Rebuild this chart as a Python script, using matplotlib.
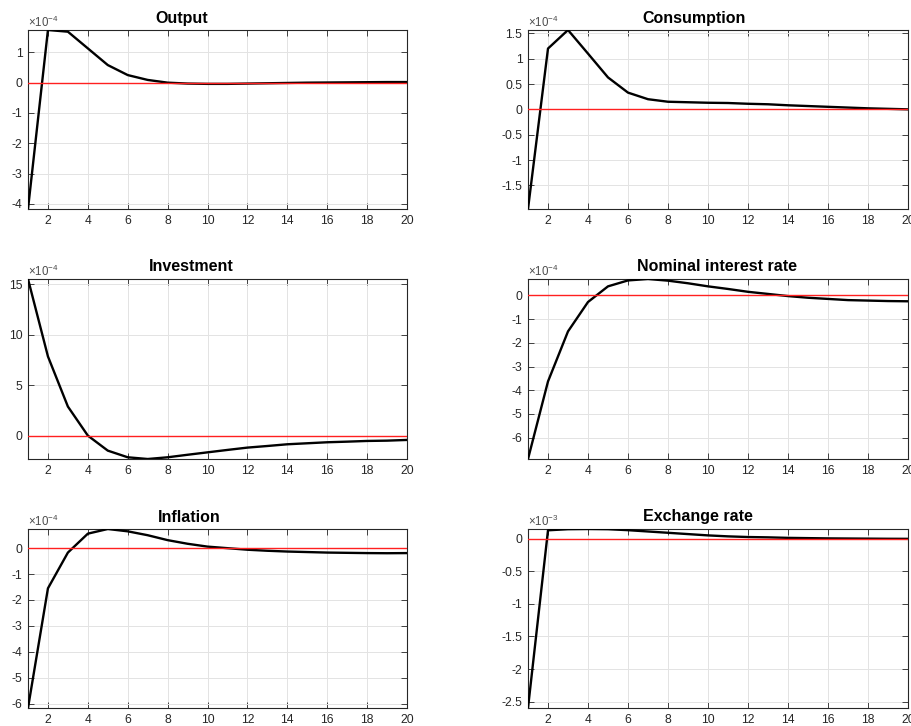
import numpy as np
import matplotlib
matplotlib.use('Agg')
import matplotlib.pyplot as plt
from matplotlib.ticker import FuncFormatter

plt.rcParams['font.family'] = ['Liberation Sans', 'DejaVu Sans']
plt.rcParams['mathtext.fontset'] = 'custom'
plt.rcParams['mathtext.rm'] = 'Liberation Sans'
plt.rcParams['mathtext.it'] = 'Liberation Sans'

periods = np.arange(1, 21)

# impulse responses
output = np.array([-4.165, 1.736, 1.68, 1.13, 0.58, 0.25, 0.09, 0.0, -0.03, -0.04,
                   -0.04, -0.03, -0.02, -0.01, 0.0, 0.005, 0.01, 0.015, 0.02, 0.02]) * 1e-4
consumption = np.array([-1.967, 1.20, 1.566, 1.10, 0.63, 0.33, 0.20, 0.15, 0.14, 0.13,
                        0.125, 0.11, 0.10, 0.08, 0.065, 0.05, 0.035, 0.02, 0.01, 0.0]) * 1e-4
investment = np.array([15.53, 7.85, 2.88, 0.0, -1.49, -2.15, -2.32, -2.15, -1.9, -1.66,
                       -1.42, -1.19, -1.03, -0.86, -0.76, -0.66, -0.6, -0.53, -0.50, -0.43]) * 1e-4
interest = np.array([-6.90, -3.63, -1.52, -0.28, 0.38, 0.63, 0.69, 0.62, 0.51, 0.38,
                     0.27, 0.15, 0.06, -0.03, -0.10, -0.15, -0.20, -0.22, -0.24, -0.25]) * 1e-4
inflation = np.array([-6.17, -1.55, -0.17, 0.56, 0.74, 0.65, 0.50, 0.31, 0.17, 0.06,
                      0.0, -0.06, -0.10, -0.13, -0.15, -0.17, -0.18, -0.19, -0.195, -0.19]) * 1e-4
exchange = np.array([-2.597, 0.128, 0.145, 0.148, 0.145, 0.13, 0.11, 0.09, 0.07, 0.05,
                     0.035, 0.025, 0.02, 0.012, 0.008, 0.004, 0.002, 0.0, -0.002, -0.003]) * 1e-3

titles = ['Output', 'Consumption', 'Investment', 'Nominal interest rate', 'Inflation', 'Exchange rate']
series = [output, consumption, investment, interest, inflation, exchange]
exponents = [-4, -4, -4, -4, -4, -3]
yticks = [[-4, -3, -2, -1, 0, 1],
          [-1.5, -1, -0.5, 0, 0.5, 1, 1.5],
          [0, 5, 10, 15],
          [-6, -5, -4, -3, -2, -1, 0],
          [-6, -5, -4, -3, -2, -1, 0],
          [-2.5, -2, -1.5, -1, -0.5, 0]]
title_x = [0.406, 0.437, 0.430, 0.497, 0.425, 0.447]

W, H = 911, 726
fig = plt.figure(figsize=(W / 100, H / 100), dpi=100)

col_left = [28, 528]
col_w = [379, 380]
row_top = [30, 279, 529]
row_h = [179, 180, 179]

for i in range(6):
    r, c = divmod(i, 2)
    ax = fig.add_axes([col_left[c] / W, 1 - (row_top[r] + row_h[r]) / H,
                       col_w[c] / W, row_h[r] / H])
    y = series[i]
    scale = 10.0 ** exponents[i]
    ax.plot(periods, y, color='k', lw=1.7, zorder=3)
    # zero line drawn after the response, as in the original
    ax.plot(periods, np.zeros_like(y), color='#ff2020', lw=1.0, zorder=4)
    ax.set_xlim(1, 20)
    ax.set_ylim(y.min(), y.max())
    ax.set_xticks(np.arange(2, 21, 2))
    ax.set_yticks(np.array(yticks[i]) * scale)
    ax.yaxis.set_major_formatter(FuncFormatter(lambda v, p, s=scale: '%g' % round(v / s, 6)))
    ax.grid(True, color='#e3e3e3', lw=0.7)
    ax.set_axisbelow(True)
    ax.tick_params(direction='in', top=True, right=True, length=4, width=0.6,
                   labelsize=8.7, colors='#262626', pad=4)
    for sp in ax.spines.values():
        sp.set_color('#262626')
        sp.set_linewidth(0.8)
    ax.text(title_x[i], 1.0 + 12 / row_h[r], titles[i], transform=ax.transAxes,
            ha='center', va='center', fontsize=11.5, fontweight='bold')
    ax.text(0.0, 1.0 + 3 / row_h[r], r'$\times10^{%d}$' % exponents[i],
            transform=ax.transAxes, ha='left', va='baseline', fontsize=8.3, color='#4d4d4d')

fig.savefig('out.png', dpi=100)
